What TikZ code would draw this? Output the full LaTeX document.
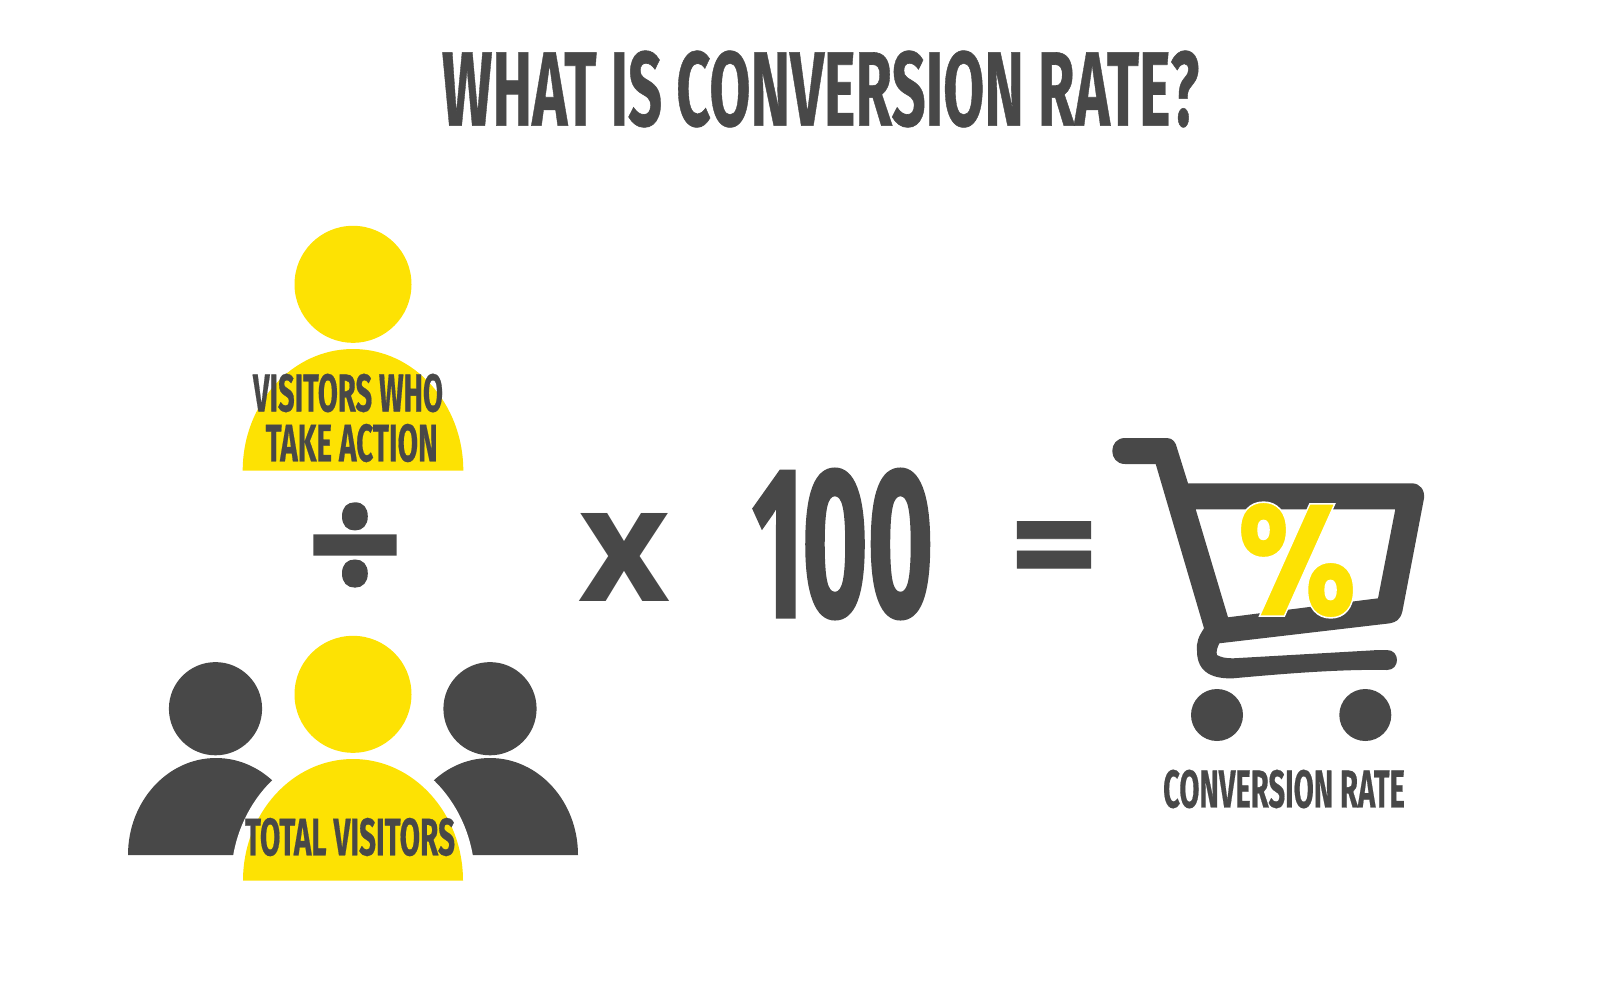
\documentclass[tikz,border=0pt]{standalone}
\usepackage{fontspec}
\usepackage{graphicx}
\newfontfamily\capsfont[FakeBold=0.6]{Fira Sans Bold}
\newfontfamily\signfont{Open Sans Bold}
\newfontfamily\digitfont[FakeBold=2]{Open Sans Bold}
\newfontfamily\percentfont{Poppins ExtraBold}
\definecolor{boxGray}{RGB}{72, 72, 72}
\definecolor{boxYellow}{RGB}{253, 226, 3}
\newdimen\pxunit
\pxunit=0.5pt
% text stretched to a given width and height
\newcommand{\fittext}[3]{\resizebox{#1\pxunit}{#2\pxunit}{#3}}

\begin{document}
\begin{tikzpicture}[x=0.5pt, y=-0.5pt,
    caps/.style={inner sep=0, text=boxGray, font=\capsfont},
    signs/.style={inner sep=0, text=boxGray, font=\signfont},
    digits/.style={inner sep=0, text=boxGray, font=\digitfont}]
  \useasboundingbox (0,0) rectangle (1600,980);
  \node[caps] (title) at (820.5,89) {\fittext{757}{75}{WHAT IS CONVERSION RATE?}};
  % upper person
  \fill[boxYellow] (353,284.3) circle (58.5);
  \fill[boxYellow] (242.7,470.7) arc[start angle=180, end angle=360, x radius=110.3, y radius=121.7] -- cycle;
  \node[caps] (action1) at (348,393) {\fittext{190}{37.7}{VISITORS WHO}};
  \node[caps] (action2) at (351.7,443) {\fittext{172}{37.4}{TAKE ACTION}};
  % division sign
  \node[digits] (divide) at (355,554) {\fittext{94}{100}{÷}};
  % lower group, the middle body is cut out of the two others
  \fill[boxGray] (215.5,708.7) circle (46.6);
  \fill[boxGray] (490,708.7) circle (46.6);
  \fill[boxGray] (128,855) arc[start angle=180, end angle=360, x radius=88, y radius=97] -- cycle;
  \fill[boxGray] (402,855) arc[start angle=180, end angle=360, x radius=88, y radius=97] -- cycle;
  \fill[white] (231,880.7) arc[start angle=180, end angle=360, x radius=122, y radius=134] -- cycle;
  \fill[boxYellow] (353,694.3) circle (58.5);
  \fill[boxYellow] (243,880.7) arc[start angle=180, end angle=360, x radius=110, y radius=121.7] -- cycle;
  \node[caps] (total) at (350,837) {\fittext{210}{37.4}{TOTAL VISITORS}};
  % formula
  \node[signs] (times) at (624,557) {\fittext{92}{88}{x}};
  \node[digits] (hundred) at (840,544) {\fittext{186}{147}{1\kern-0.09em 00}};
  \node[caps] (equals) at (1054,556.5) {\fittext{90}{70}{=}};
  % cart with its window
  \fill[boxGray, even odd rule]
    (1125,438) -- (1167,438) .. controls (1173,438) and (1176,443) .. (1177,448)
    -- (1188,483.3) -- (1411.7,483.3) .. controls (1420,483.3) and (1425,490) .. (1424,498.3)
    -- (1402.3,611.7) .. controls (1400,620) and (1396,622) .. (1390,623.3)
    -- (1219.3,643.3) .. controls (1217,648) and (1216,652) .. (1217,655)
    .. controls (1220,657) and (1226,658.5) .. (1233.3,658.3)
    -- (1370,650.5) .. controls (1376,650) and (1382,650) .. (1387,650)
    .. controls (1400.3,650) and (1400.3,670) .. (1387,670)
    .. controls (1340,669) and (1280,674) .. (1233.3,678.3)
    .. controls (1215,679) and (1197,674) .. (1197,651)
    .. controls (1196,642) and (1199,636) .. (1204,628.3)
    -- (1155.7,464) -- (1125,464) .. controls (1108,464) and (1108,438) .. (1125,438) -- cycle
    (1195.7,509.3) -- (1395.3,509.3) -- (1378,598.3) -- (1228,617.3) -- cycle;
  \fill[boxGray] (1217,715) circle (26);
  \fill[boxGray] (1365.3,715) circle (26);
  % percent sign with a thin white outline
  \node[inner sep=0, text=boxYellow, font=\percentfont] (percent) at (1297,560) {\fittext{120}{114}{\special{pdf:code 2 Tr 0.1 w 1 1 1 RG}\%\special{pdf:code 0 Tr}}};
  \node[caps] (rate) at (1284,789) {\fittext{241.7}{37.7}{CONVERSION RATE}};
\end{tikzpicture}
\end{document}
